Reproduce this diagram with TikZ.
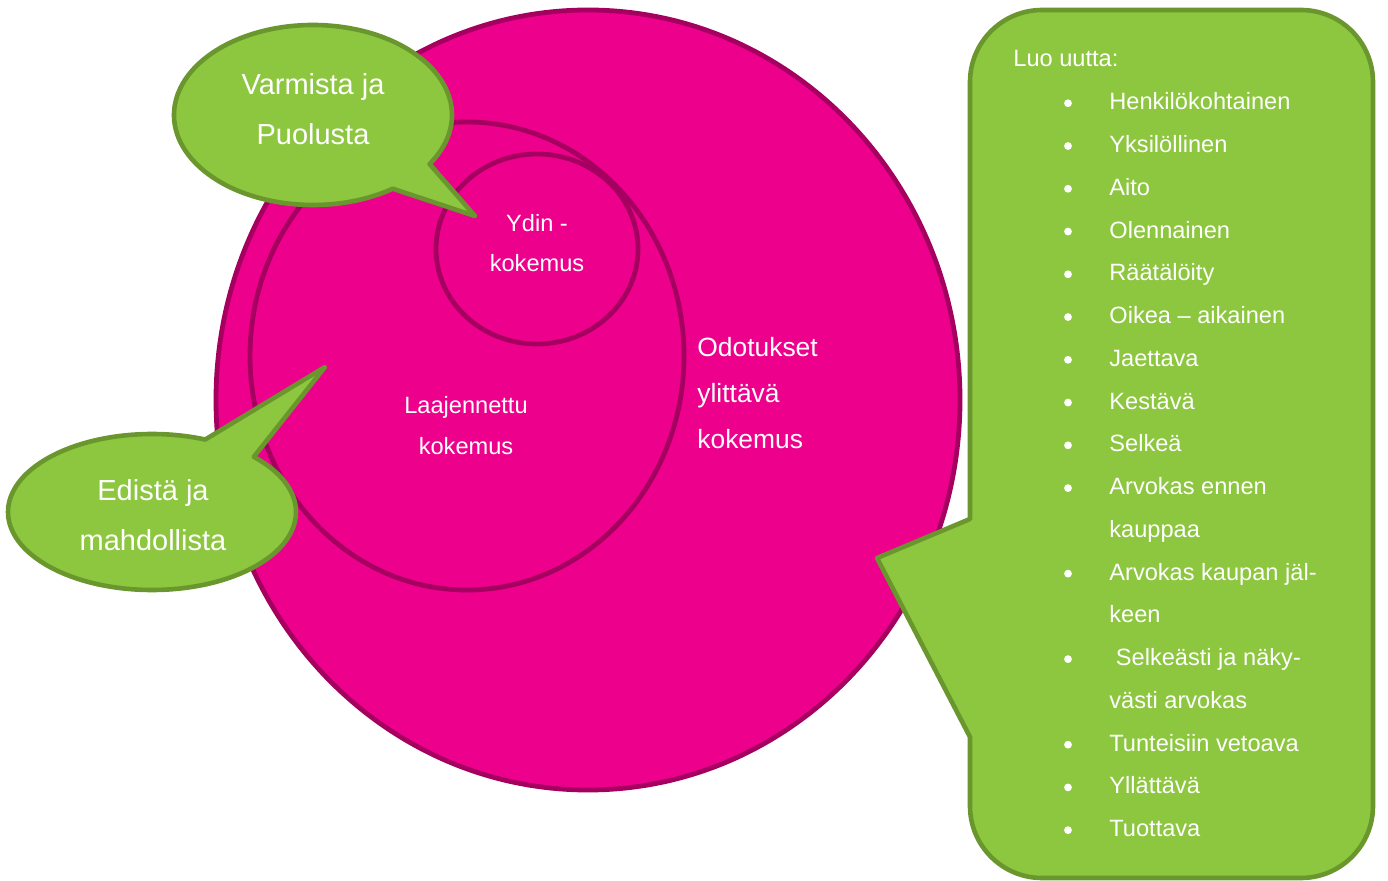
\documentclass[tikz,border=0pt]{standalone}
\usepackage{fontspec}
\setmainfont{Liberation Sans}
\usetikzlibrary{calc}
\definecolor{kpink}{RGB}{236,0,140}
\definecolor{kpinkline}{RGB}{165,0,95}
\definecolor{kgreen}{RGB}{141,198,63}
\definecolor{kgreenline}{RGB}{106,150,46}
\begin{document}
\begin{tikzpicture}[x=0.5pt, y=-0.5pt,
    ring/.style={fill=kpink, draw=kpinkline, line width=2.4pt},
    bubble/.style={fill=kgreen, draw=kgreenline, line width=2.3pt, line join=round},
    bigtxt/.style={text=white, anchor=base, inner sep=0pt, font=\fontsize{14.5}{17}\selectfont},
    smalltxt/.style={text=white, anchor=base, inner sep=0pt, font=\fontsize{11.8}{14}\selectfont},
    midtxt/.style={text=white, anchor=base west, inner sep=0pt, font=\fontsize{13.2}{16}\selectfont},
    listtxt/.style={smalltxt, anchor=base west},
    dot/.style={circle, fill=white, inner sep=0pt, minimum size=3.9pt}]
\useasboundingbox (0,0) rectangle (1388,881);

% kokemus rings
\coordinate (outer) at (588,400);
\coordinate (middle) at (467,356);
\coordinate (core) at (537,249);
\draw[ring] (outer) ellipse [x radius=372, y radius=390];
\draw[ring] (middle) ellipse [x radius=217, y radius=234];
\draw[ring] (core) ellipse [x radius=101, y radius=95];

% speech bubbles
\coordinate (varmistaC) at (313,115);
\coordinate (varmistaTip) at (475,216);
\draw[bubble] (varmistaC) ++(55:139 and 90)
    arc [start angle=55, end angle=393, x radius=139, y radius=90]
    -- (varmistaTip) -- cycle;
\coordinate (edistaC) at (152,512);
\coordinate (edistaTip) at (325,367);
\draw[bubble] (edistaC) ++(-45:144 and 78)
    arc [start angle=-45, end angle=291.7, x radius=144, y radius=78]
    -- (edistaTip) -- cycle;

% list panel
\coordinate (luoTip) at (877,558);
\draw[bubble] (970,519) -- (970,82) arc [start angle=180, end angle=270, radius=72]
    -- (1301,10) arc [start angle=270, end angle=360, radius=72]
    -- (1373,806) arc [start angle=0, end angle=90, radius=72]
    -- (1042,878) arc [start angle=90, end angle=180, radius=72]
    -- (970,737) -- (luoTip) -- cycle;

% texts
\node[bigtxt] (varmista) at (313,95) {Varmista ja};
\node[bigtxt] (puolusta) at (313,145) {Puolusta};
\node[bigtxt] (edista) at (153,501) {Edistä ja};
\node[bigtxt] (mahdollista) at (153,551) {mahdollista};
\node[smalltxt] (ydin) at (537,232) {Ydin -};
\node[smalltxt] (ydinKok) at (537,272) {kokemus};
\node[smalltxt] (laaj) at (466,414) {Laajennettu};
\node[smalltxt] (laajKok) at (466,455) {kokemus};
\node[midtxt] (odot) at (697,357) {Odotukset};
\node[midtxt] (odotYli) at (697,403) {ylittävä};
\node[midtxt] (odotKok) at (697,449) {kokemus};

\node[listtxt] (luo) at (1013,67) {Luo uutta:};
\foreach \bul/\txt [count=\i] in {1/Henkilökohtainen, 1/Yksilöllinen, 1/Aito,
    1/Olennainen, 1/Räätälöity, 1/Oikea – aikainen, 1/Jaettava, 1/Kestävä,
    1/Selkeä, 1/Arvokas ennen, 0/kauppaa, 1/Arvokas kaupan jäl-, 0/keen,
    1/\ Selkeästi ja näky-, 0/västi arvokas, 1/Tunteisiin vetoava,
    1/Yllättävä, 1/Tuottava}{
  \node[listtxt] (item\i) at (1109,{67+42.76*\i}) {\txt};
  \ifnum\bul=1 \node[dot] (dot\i) at (1068,{60.5+42.76*\i}) {}; \fi
}
\end{tikzpicture}
\end{document}
